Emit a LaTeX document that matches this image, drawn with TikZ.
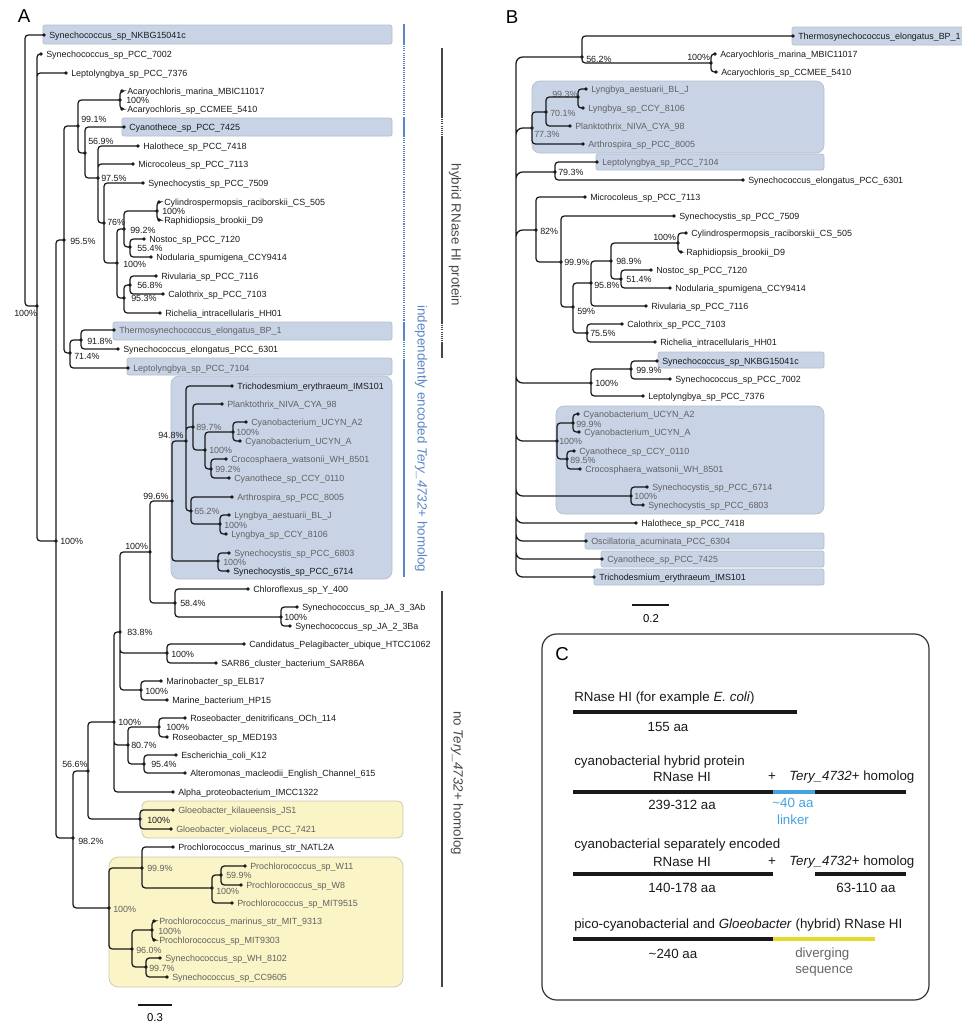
\documentclass[tikz,border=0pt]{standalone}
\usepackage{fontspec}
\setmainfont{Liberation Sans}
\usepackage{tikz}
\usetikzlibrary{calc}
\definecolor{boxblue}{HTML}{C8D4E6}
\definecolor{boxblueedge}{HTML}{B3BDCB}
\definecolor{boxyellow}{HTML}{FAF4C6}
\definecolor{boxyellowedge}{HTML}{CDC9B2}
\definecolor{barblue}{HTML}{5B86C5}
\definecolor{bargray}{HTML}{464646}
\definecolor{linkblue}{HTML}{45A2DE}
\definecolor{divyellow}{HTML}{E4DA2C}
\definecolor{treeblack}{HTML}{1A1A1A}
\tikzset{
  branch/.style   = {draw=treeblack, line width=0.95pt, rounded corners=2.5pt},
  leaflab/.style  = {font=\fontsize{6.7}{7}\selectfont, anchor=mid west, inner sep=0pt, text=treeblack},
  leafdim/.style  = {leaflab, text=black!62},
  bslab/.style    = {font=\fontsize{6.7}{7}\selectfont, anchor=mid west, inner sep=0pt, text=treeblack},
  bsdim/.style    = {bslab, text=black!62},
  cladebox/.style = {fill=boxblue, draw=boxblueedge, line width=0.5pt, rounded corners=1.5pt},
  goldbox/.style  = {fill=boxyellow, draw=boxyellowedge, line width=0.6pt, rounded corners=4pt},
  bluebar/.style  = {draw=barblue, line width=2.2pt},
  bluedot/.style  = {draw=barblue, line width=1.3pt, dash pattern=on 0.8pt off 0.8pt},
  bluethin/.style = {draw=barblue, line width=1.1pt},
  graybar/.style  = {draw=bargray, line width=2.2pt},
  graydot/.style  = {draw=bargray, line width=1.5pt, dash pattern=on 0.8pt off 0.8pt},
  sidelab/.style  = {font=\fontsize{10}{12}\selectfont, inner sep=0pt},
  panel/.style    = {font=\fontsize{14}{16}\selectfont, inner sep=0pt},
  ctext/.style    = {font=\fontsize{10}{12}\selectfont, inner sep=0pt, text=black!90},
  cbar/.style     = {line width=2.3pt},
  scalebar/.style = {draw=treeblack, line width=0.8pt},
}
\newcommand{\tleaf}[5][leaflab]{%
  \coordinate (#2) at (#3,#4);
  \fill[treeblack] (#2) circle (1.35pt);
  \node[#1] (#2-t) at (#3+5,#4) {#5};}
\newcommand{\tnode}[7][bslab]{%
  \coordinate (#2) at (#3,#4);
  \fill[treeblack] (#2) circle (1.35pt);
  \node[#1] (#2-l) at (#6,#7) {#5};}

\begin{document}
\begin{tikzpicture}[x=0.75pt, y=-0.75pt]
  \useasboundingbox (0,0) rectangle (961,1025);

  \node[panel] (pA) at (24,16) {A};
  \node[panel] (pB) at (512,17) {B};

  \draw[cladebox] (43,25) rectangle (392,44);
  \draw[cladebox] (122,118) rectangle (392,136);
  \draw[cladebox] (113,322) rectangle (392,340);
  \draw[cladebox] (127,358) rectangle (392,375);
  \draw[cladebox, rounded corners=6pt] (171,376) rectangle (392,579);
  \draw[goldbox] (142,801) rectangle (403,838);
  \draw[goldbox, rounded corners=7pt] (109,857) rectangle (403,987);

  \draw[cladebox] (792,27) rectangle (968,45);
  \draw[cladebox, rounded corners=6pt] (532,81) rectangle (824,153);
  \draw[cladebox] (596,154) rectangle (824,170);
  \draw[cladebox] (658,352) rectangle (824,368);
  \draw[cladebox, rounded corners=6pt] (556,406) rectangle (824,514);
  \draw[cladebox] (585,533) rectangle (824,549);
  \draw[cladebox] (601,551) rectangle (824,567);
  \draw[cladebox] (594,569) rectangle (824,585);

  \draw[bluebar] (404,24) -- (404,44);
  \draw[bluedot] (404,44) -- (404,117);
  \draw[bluebar] (404,117) -- (404,136);
  \draw[bluedot] (404,136) -- (404,322);
  \draw[bluebar] (404,322) -- (404,340);
  \draw[bluedot] (404,340) -- (404,360);
  \draw[bluethin] (404,360) -- (404,577);
  \draw[graybar] (442,48) -- (442,117);
  \draw[graydot] (442,117) -- (442,137);
  \draw[graybar] (442,137) -- (442,323);
  \draw[graydot] (442,323) -- (442,342);
  \draw[graybar] (442,342) -- (442,358);
  \draw[graybar] (442,591) -- (442,987);
  \node[sidelab, text=bargray, rotate=-90] (hybridlab) at (455,235) {hybrid RNase HI protein};
  \node[sidelab, text=barblue, rotate=-90] (indeplab) at (421,439) {independently encoded \textit{Tery\_4732}+ homolog};
  \node[sidelab, text=bargray, rotate=-90] (nolab) at (457,783) {no \textit{Tery\_4732}+ homolog};

  \coordinate (aRoot) at (25,170);
  \tleaf{aNKBG}{44}{35}{Synechococcus\_sp\_NKBG15041c}
  \tleaf{aP7002}{41}{54}{Synechococcus\_sp\_PCC\_7002}
  \tleaf{aL7376}{66}{73}{Leptolyngbya\_sp\_PCC\_7376}
  \tleaf{aAcM}{122}{91}{Acaryochloris\_marina\_MBIC11017}
  \tleaf{aAcS}{122}{109}{Acaryochloris\_sp\_CCMEE\_5410}
  \tleaf{aC7425}{124}{127}{Cyanothece\_sp\_PCC\_7425}
  \tleaf{aH7418}{138}{146}{Halothece\_sp\_PCC\_7418}
  \tleaf{aM7113}{133}{164}{Microcoleus\_sp\_PCC\_7113}
  \tleaf{aS7509}{143}{183}{Synechocystis\_sp\_PCC\_7509}
  \tleaf{aCyl}{159}{202}{Cylindrospermopsis\_raciborskii\_CS\_505}
  \tleaf{aRap}{159}{220}{Raphidiopsis\_brookii\_D9}
  \tleaf{aNos}{144}{239}{Nostoc\_sp\_PCC\_7120}
  \tleaf{aNod}{151}{257}{Nodularia\_spumigena\_CCY9414}
  \tleaf{aRiv}{156}{276}{Rivularia\_sp\_PCC\_7116}
  \tleaf{aCal}{163}{294}{Calothrix\_sp\_PCC\_7103}
  \tleaf{aRic}{160}{313}{Richelia\_intracellularis\_HH01}
  \tleaf[leafdim]{aTBP}{114}{330}{Thermosynechococcus\_elongatus\_BP\_1}
  \tleaf{aS6301}{118}{349}{Synechococcus\_elongatus\_PCC\_6301}
  \tleaf[leafdim]{aL7104}{128}{368}{Leptolyngbya\_sp\_PCC\_7104}
  \tleaf{aTri}{232}{386}{Trichodesmium\_erythraeum\_IMS101}
  \tleaf[leafdim]{aPla}{222}{404}{Planktothrix\_NIVA\_CYA\_98}
  \tleaf[leafdim]{aUA2}{246}{422}{Cyanobacterium\_UCYN\_A2}
  \tleaf[leafdim]{aUA}{240}{441}{Cyanobacterium\_UCYN\_A}
  \tleaf[leafdim]{aCro}{226}{459}{Crocosphaera\_watsonii\_WH\_8501}
  \tleaf[leafdim]{aCCY}{229}{478}{Cyanothece\_sp\_CCY\_0110}
  \tleaf[leafdim]{aArt}{232}{497}{Arthrospira\_sp\_PCC\_8005}
  \tleaf[leafdim]{aLyA}{229}{515}{Lyngbya\_aestuarii\_BL\_J}
  \tleaf[leafdim]{aLyC}{226}{534}{Lyngbya\_sp\_CCY\_8106}
  \tleaf[leafdim]{aS6803}{229}{553}{Synechocystis\_sp\_PCC\_6803}
  \tleaf{aS6714}{228}{571}{Synechocystis\_sp\_PCC\_6714}
  \tleaf{aChl}{248}{589}{Chloroflexus\_sp\_Y\_400}
  \tleaf{aJA3}{297}{607}{Synechococcus\_sp\_JA\_3\_3Ab}
  \tleaf{aJA2}{290}{626}{Synechococcus\_sp\_JA\_2\_3Ba}
  \tleaf{aPel}{244}{644}{Candidatus\_Pelagibacter\_ubique\_HTCC1062}
  \tleaf{aSAR}{216}{663}{SAR86\_cluster\_bacterium\_SAR86A}
  \tleaf{aMar}{161}{681}{Marinobacter\_sp\_ELB17}
  \tleaf{aHP}{167}{700}{Marine\_bacterium\_HP15}
  \tleaf{aRoD}{185}{718}{Roseobacter\_denitrificans\_OCh\_114}
  \tleaf{aRoM}{167}{737}{Roseobacter\_sp\_MED193}
  \tleaf{aEco}{176}{755}{Escherichia\_coli\_K12}
  \tleaf{aAlt}{185}{773}{Alteromonas\_macleodii\_English\_Channel\_615}
  \tleaf{aAlp}{173}{792}{Alpha\_proteobacterium\_IMCC1322}
  \tleaf[leafdim]{aGlK}{173}{810}{Gloeobacter\_kilaueensis\_JS1}
  \tleaf[leafdim]{aGlV}{171}{829}{Gloeobacter\_violaceus\_PCC\_7421}
  \tleaf{aNAT}{173}{847}{Prochlorococcus\_marinus\_str\_NATL2A}
  \tleaf[leafdim]{aW11}{245}{866}{Prochlorococcus\_sp\_W11}
  \tleaf[leafdim]{aW8}{241}{885}{Prochlorococcus\_sp\_W8}
  \tleaf[leafdim]{a9515}{232}{903}{Prochlorococcus\_sp\_MIT9515}
  \tleaf[leafdim]{a9313}{154}{921}{Prochlorococcus\_marinus\_str\_MIT\_9313}
  \tleaf[leafdim]{a9303}{154}{940}{Prochlorococcus\_sp\_MIT9303}
  \tleaf[leafdim]{a8102}{160}{958}{Synechococcus\_sp\_WH\_8102}
  \tleaf[leafdim]{a9605}{167}{977}{Synechococcus\_sp\_CC9605}

  \tnode{aX}{37}{306}{100\%}{14}{313}
  \tnode{aZ}{56}{541}{100\%}{60}{541}
  \tnode{a955}{64}{240}{95.5\%}{70}{241}
  \tnode{a991}{78}{126}{99.1\%}{81}{119}
  \tnode{aAc}{120}{100}{100\%}{126}{100}
  \tnode{a569}{85}{153}{56.9\%}{88}{141}
  \tnode{a975}{98}{178}{97.5\%}{101}{178}
  \tnode{a76}{104}{223}{76\%}{107}{222}
  \tnode{a100b}{117}{263}{100\%}{123}{264}
  \tnode{a992}{124}{229}{99.2\%}{130}{230}
  \tnode{aCR}{157}{211}{100\%}{162}{211}
  \tnode{a554}{130}{247}{55.4\%}{137}{248}
  \tnode{a953}{124}{298}{95.3\%}{131}{298}
  \tnode{a568}{130}{285}{56.8\%}{137}{285}
  \tnode{a714}{70}{353}{71.4\%}{74}{356}
  \tnode{a918}{81}{340}{91.8\%}{87}{341}
  \tnode{a982}{73}{838}{98.2\%}{78}{841}
  \tnode{a566}{88}{771}{56.6\%}{62}{764}
  \tnode{a100e}{114}{722}{100\%}{118}{722}
  \tnode{a838}{120}{632}{83.8\%}{127}{632}
  \tnode{a100d}{150}{552}{100\%}{125}{546}
  \tnode{a996}{172}{501}{99.6\%}{143}{496}
  \tnode{a948}{186}{441}{94.8\%}{158}{435}
  \tnode[bsdim]{a897}{193}{427}{89.7\%}{196}{427}
  \tnode[bsdim]{a100c}{205}{450}{100\%}{209}{450}
  \tnode[bsdim]{aUC}{233}{432}{100\%}{236}{432}
  \tnode[bsdim]{a992b}{211}{469}{99.2\%}{215}{469}
  \tnode[bsdim]{a652}{191}{511}{65.2\%}{194}{511}
  \tnode[bsdim]{aLy}{220}{524}{100\%}{224}{525}
  \tnode[bsdim]{aSy}{218}{561}{100\%}{223}{562}
  \tnode{a584}{175}{603}{58.4\%}{180}{603}
  \tnode{aJA}{281}{617}{100\%}{284}{617}
  \tnode{aPe}{167}{653}{100\%}{171}{654}
  \tnode{aMa}{141}{690}{100\%}{145}{691}
  \tnode{a807}{128}{745}{80.7\%}{131}{745}
  \tnode{aRo}{159}{727}{100\%}{166}{727}
  \tnode{a954}{144}{764}{95.4\%}{151}{764}
  \tnode{aGl}{140}{819}{100\%}{147}{820}
  \tnode[bsdim]{a100g}{109}{908}{100\%}{113}{909}
  \tnode[bsdim]{a999}{142}{868}{99.9\%}{147}{868}
  \tnode[bsdim]{a100f}{212}{888}{100\%}{216}{891}
  \tnode[bsdim]{a599}{221}{875}{59.9\%}{226}{875}
  \tnode[bsdim]{a960}{132}{949}{96.0\%}{136}{950}
  \tnode[bsdim]{aPr}{152}{930}{100\%}{158}{931}
  \tnode[bsdim]{a997}{146}{967}{99.7\%}{149}{968}

  \draw[branch] (aRoot) |- (aNKBG) (aRoot) |- (aX);
  \draw[branch] (aX) |- (aP7002) (aX) |- (aL7376) (aX) |- (aZ);
  \draw[branch] (aZ) |- (a955) (aZ) |- (a982);
  \draw[branch] (a955) |- (a991) (a955) |- (a714);
  \draw[branch] (a991) |- (aAc) (a991) |- (a569);
  \draw[branch] (aAc) |- (aAcM) (aAc) |- (aAcS);
  \draw[branch] (a569) |- (aC7425) (a569) |- (a975);
  \draw[branch] (a975) |- (aH7418) (a975) |- (aM7113) (a975) |- (a76);
  \draw[branch] (a76) |- (aS7509) (a76) |- (a100b);
  \draw[branch] (a100b) |- (a992) (a100b) |- (a953);
  \draw[branch] (a992) |- (aCR) (a992) |- (a554);
  \draw[branch] (aCR) |- (aCyl) (aCR) |- (aRap);
  \draw[branch] (a554) |- (aNos) (a554) |- (aNod);
  \draw[branch] (a953) |- (a568) (a953) |- (aRic);
  \draw[branch] (a568) |- (aRiv) (a568) |- (aCal);
  \draw[branch] (a714) |- (a918) (a714) |- (aL7104);
  \draw[branch] (a918) |- (aTBP) (a918) |- (aS6301);
  \draw[branch] (a982) |- (a566) (a982) |- (a100g);
  \draw[branch] (a566) |- (a100e) (a566) |- (aGl);
  \draw[branch] (a100e) |- (a838) (a100e) |- (a807) (a100e) |- (aAlp);
  \draw[branch] (a838) |- (a100d) (a838) |- (aPe) (a838) |- (aMa);
  \draw[branch] (a100d) |- (a996) (a100d) |- (a584);
  \draw[branch] (a996) |- (a948) (a996) |- (aSy);
  \draw[branch] (a948) |- (aTri) (a948) |- (a897) (a948) |- (a652);
  \draw[branch] (a897) |- (aPla) (a897) |- (a100c);
  \draw[branch] (a100c) |- (aUC) (a100c) |- (a992b);
  \draw[branch] (aUC) |- (aUA2) (aUC) |- (aUA);
  \draw[branch] (a992b) |- (aCro) (a992b) |- (aCCY);
  \draw[branch] (a652) |- (aArt) (a652) |- (aLy);
  \draw[branch] (aLy) |- (aLyA) (aLy) |- (aLyC);
  \draw[branch] (aSy) |- (aS6803) (aSy) |- (aS6714);
  \draw[branch] (a584) |- (aChl) (a584) |- (aJA);
  \draw[branch] (aJA) |- (aJA3) (aJA) |- (aJA2);
  \draw[branch] (aPe) |- (aPel) (aPe) |- (aSAR);
  \draw[branch] (aMa) |- (aMar) (aMa) |- (aHP);
  \draw[branch] (a807) |- (aRo) (a807) |- (a954);
  \draw[branch] (aRo) |- (aRoD) (aRo) |- (aRoM);
  \draw[branch] (a954) |- (aEco) (a954) |- (aAlt);
  \draw[branch] (aGl) |- (aGlK) (aGl) |- (aGlV);
  \draw[branch] (a100g) |- (a999) (a100g) |- (a960);
  \draw[branch] (a999) |- (aNAT) (a999) |- (a100f);
  \draw[branch] (a100f) |- (a599) (a100f) |- (a9515);
  \draw[branch] (a599) |- (aW11) (a599) |- (aW8);
  \draw[branch] (a960) |- (aPr) (a960) |- (a997);
  \draw[branch] (aPr) |- (a9313) (aPr) |- (a9303);
  \draw[branch] (a997) |- (a8102) (a997) |- (a9605);

  \coordinate (sA1) at (138,1005);
  \coordinate (sA2) at (172,1005);
  \draw[scalebar] (sA1) -- (sA2);
  \node[font=\fontsize{8.5}{10}\selectfont, inner sep=0pt] (sAlab) at (155,1018) {0.3};

  \coordinate (bRoot) at (516,317);
  \tleaf{bTBP}{793}{36}{Thermosynechococcus\_elongatus\_BP\_1}
  \tleaf{bAcM}{715}{54}{Acaryochloris\_marina\_MBIC11017}
  \tleaf{bAcS}{716}{72}{Acaryochloris\_sp\_CCMEE\_5410}
  \tleaf[leafdim]{bLyA}{586}{89}{Lyngbya\_aestuarii\_BL\_J}
  \tleaf[leafdim]{bLyC}{583}{108}{Lyngbya\_sp\_CCY\_8106}
  \tleaf[leafdim]{bPla}{570}{126}{Planktothrix\_NIVA\_CYA\_98}
  \tleaf[leafdim]{bArt}{583}{144}{Arthrospira\_sp\_PCC\_8005}
  \tleaf[leafdim]{bL7104}{597}{162}{Leptolyngbya\_sp\_PCC\_7104}
  \tleaf{bS6301}{743}{180}{Synechococcus\_elongatus\_PCC\_6301}
  \tleaf{bM7113}{585}{197}{Microcoleus\_sp\_PCC\_7113}
  \tleaf{bS7509}{674}{216}{Synechocystis\_sp\_PCC\_7509}
  \tleaf{bCyl}{686}{233}{Cylindrospermopsis\_raciborskii\_CS\_505}
  \tleaf{bRap}{681}{252}{Raphidiopsis\_brookii\_D9}
  \tleaf{bNos}{651}{270}{Nostoc\_sp\_PCC\_7120}
  \tleaf{bNod}{670}{288}{Nodularia\_spumigena\_CCY9414}
  \tleaf{bRiv}{646}{306}{Rivularia\_sp\_PCC\_7116}
  \tleaf{bCal}{622}{324}{Calothrix\_sp\_PCC\_7103}
  \tleaf{bRic}{655}{342}{Richelia\_intracellularis\_HH01}
  \tleaf{bNKBG}{657}{361}{Synechococcus\_sp\_NKBG15041c}
  \tleaf{bP7002}{670}{379}{Synechococcus\_sp\_PCC\_7002}
  \tleaf{bL7376}{643}{396}{Leptolyngbya\_sp\_PCC\_7376}
  \tleaf[leafdim]{bUA2}{578}{414}{Cyanobacterium\_UCYN\_A2}
  \tleaf[leafdim]{bUA}{579}{432}{Cyanobacterium\_UCYN\_A}
  \tleaf[leafdim]{bCCY}{574}{451}{Cyanothece\_sp\_CCY\_0110}
  \tleaf[leafdim]{bCro}{580}{469}{Crocosphaera\_watsonii\_WH\_8501}
  \tleaf[leafdim]{bS6714}{647}{487}{Synechocystis\_sp\_PCC\_6714}
  \tleaf[leafdim]{bS6803}{643}{505}{Synechocystis\_sp\_PCC\_6803}
  \tleaf{bH7418}{636}{523}{Halothece\_sp\_PCC\_7418}
  \tleaf[leafdim]{bOsc}{586}{541}{Oscillatoria\_acuminata\_PCC\_6304}
  \tleaf[leafdim]{bC7425}{602}{559}{Cyanothece\_sp\_PCC\_7425}
  \tleaf{bTri}{594}{577}{Trichodesmium\_erythraeum\_IMS101}

  \tnode{b562}{582}{57}{56.2\%}{586}{59}
  \tnode{bAc}{711}{63}{100\%}{687}{57}
  \tnode[bsdim]{b773}{532}{128}{77.3\%}{534}{134}
  \tnode[bsdim]{b701}{546}{112}{70.1\%}{550}{113}
  \tnode[bsdim]{b993}{578}{97}{99.3\%}{552}{94}
  \tnode{b793}{555}{172}{79.3\%}{558}{172}
  \tnode{b82}{536}{230}{82\%}{540}{231}
  \tnode{b999}{561}{262}{99.9\%}{564}{262}
  \tnode{b59}{573}{307}{59\%}{577}{311}
  \tnode{b958}{591}{283}{95.8\%}{594}{285}
  \tnode{b989}{611}{261}{98.9\%}{616}{261}
  \tnode{bCR}{678}{243}{100\%}{653}{237}
  \tnode{b514}{621}{279}{51.4\%}{626}{279}
  \tnode{b755}{587}{333}{75.5\%}{590}{333}
  \tnode{bNK}{591}{383}{100\%}{595}{383}
  \tnode{b999c}{631}{369}{99.9\%}{636}{370}
  \tnode[bsdim]{bUC}{557}{441}{100\%}{559}{441}
  \tnode[bsdim]{b999d}{573}{423}{99.9\%}{576}{424}
  \tnode[bsdim]{b895}{567}{459}{89.5\%}{570}{460}
  \tnode[bsdim]{bSy}{631}{496}{100\%}{634}{496}

  \draw[branch, rounded corners=5pt] (bRoot) |- (b562) (bRoot) |- (b773) (bRoot) |- (b793)
    (bRoot) |- (b82) (bRoot) |- (bNK) (bRoot) |- (bUC) (bRoot) |- (bSy)
    (bRoot) |- (bH7418) (bRoot) |- (bOsc) (bRoot) |- (bC7425) (bRoot) |- (bTri);
  \draw[branch] (b562) |- (bTBP) (b562) |- (bAc);
  \draw[branch] (bAc) |- (bAcM) (bAc) |- (bAcS);
  \draw[branch] (b773) |- (b701) (b773) |- (bArt);
  \draw[branch] (b701) |- (b993) (b701) |- (bPla);
  \draw[branch] (b993) |- (bLyA) (b993) |- (bLyC);
  \draw[branch] (b793) |- (bL7104) (b793) |- (bS6301);
  \draw[branch] (b82) |- (bM7113) (b82) |- (b999);
  \draw[branch] (b999) |- (bS7509) (b999) |- (b59);
  \draw[branch] (b59) |- (b958) (b59) |- (b755);
  \draw[branch] (b958) |- (b989) (b958) |- (bRiv);
  \draw[branch] (b989) |- (bCR) (b989) |- (b514);
  \draw[branch] (bCR) |- (bCyl) (bCR) |- (bRap);
  \draw[branch] (b514) |- (bNos) (b514) |- (bNod);
  \draw[branch] (b755) |- (bCal) (b755) |- (bRic);
  \draw[branch] (bNK) |- (b999c) (bNK) |- (bL7376);
  \draw[branch] (b999c) |- (bNKBG) (b999c) |- (bP7002);
  \draw[branch] (bUC) |- (b999d) (bUC) |- (b895);
  \draw[branch] (b999d) |- (bUA2) (b999d) |- (bUA);
  \draw[branch] (b895) |- (bCCY) (b895) |- (bCro);
  \draw[branch] (bSy) |- (bS6714) (bSy) |- (bS6803);

  \coordinate (sB1) at (632,605);
  \coordinate (sB2) at (669,605);
  \draw[scalebar] (sB1) -- (sB2);
  \node[font=\fontsize{8.5}{10}\selectfont, inner sep=0pt] (sBlab) at (651,619) {0.2};

  \draw[draw=black!80, line width=0.9pt, rounded corners=11pt] (542,634) rectangle (929,1000);
  \node[panel] (pC) at (562,654) {C};

  \node[ctext, anchor=mid west] (c1) at (574,698) {RNase HI (for example \textit{E. coli})};
  \coordinate (r1a) at (573,712);
  \coordinate (r1b) at (797,712);
  \draw[cbar, black!90] (r1a) -- (r1b);
  \node[ctext] (c1n) at (668,727) {155 aa};

  \node[ctext, anchor=mid west] (c2) at (574,762) {cyanobacterial hybrid protein};
  \node[ctext] (c2r) at (682,777) {RNase HI};
  \node[ctext] (c2p) at (772,777) {+};
  \node[ctext, anchor=mid west] (c2t) at (789,777) {\textit{Tery\_4732}+ homolog};
  \coordinate (r2a) at (573,792);
  \coordinate (r2b) at (773,792);
  \coordinate (r2c) at (815,792);
  \coordinate (r2d) at (906,792);
  \draw[cbar, black!90] (r2a) -- (r2b);
  \draw[cbar, linkblue] (r2b) -- (r2c);
  \draw[cbar, black!90] (r2c) -- (r2d);
  \node[ctext] (c2n) at (682,805) {239-312 aa};
  \node[ctext, text=linkblue] (c2k) at (793,803) {\textasciitilde40 aa};
  \node[ctext, text=linkblue] (c2l) at (793,820) {linker};

  \node[ctext, anchor=mid west] (c3) at (574,845) {cyanobacterial separately encoded};
  \node[ctext] (c3r) at (682,862) {RNase HI};
  \node[ctext] (c3p) at (772,862) {+};
  \node[ctext, anchor=mid west] (c3t) at (789,862) {\textit{Tery\_4732}+ homolog};
  \coordinate (r3a) at (573,874);
  \coordinate (r3b) at (773,874);
  \coordinate (r3c) at (815,874);
  \coordinate (r3d) at (906,874);
  \draw[cbar, black!90] (r3a) -- (r3b);
  \draw[cbar, black!90] (r3c) -- (r3d);
  \node[ctext] (c3n) at (682,888) {140-178 aa};
  \node[ctext] (c3m) at (866,888) {63-110 aa};

  \node[ctext, anchor=mid west] (c4) at (574,925) {pico-cyanobacterial and \textit{Gloeobacter} (hybrid) RNase HI};
  \coordinate (r4a) at (573,939);
  \coordinate (r4b) at (773,939);
  \coordinate (r4c) at (875,939);
  \draw[cbar, black!90] (r4a) -- (r4b);
  \draw[cbar, divyellow] (r4b) -- (r4c);
  \node[ctext] (c4n) at (673,954) {\textasciitilde240 aa};
  \node[ctext, text=black!60, anchor=mid west] (c4d) at (795,954) {diverging};
  \node[ctext, text=black!60, anchor=mid west] (c4s) at (795,970) {sequence};
\end{tikzpicture}
\end{document}
